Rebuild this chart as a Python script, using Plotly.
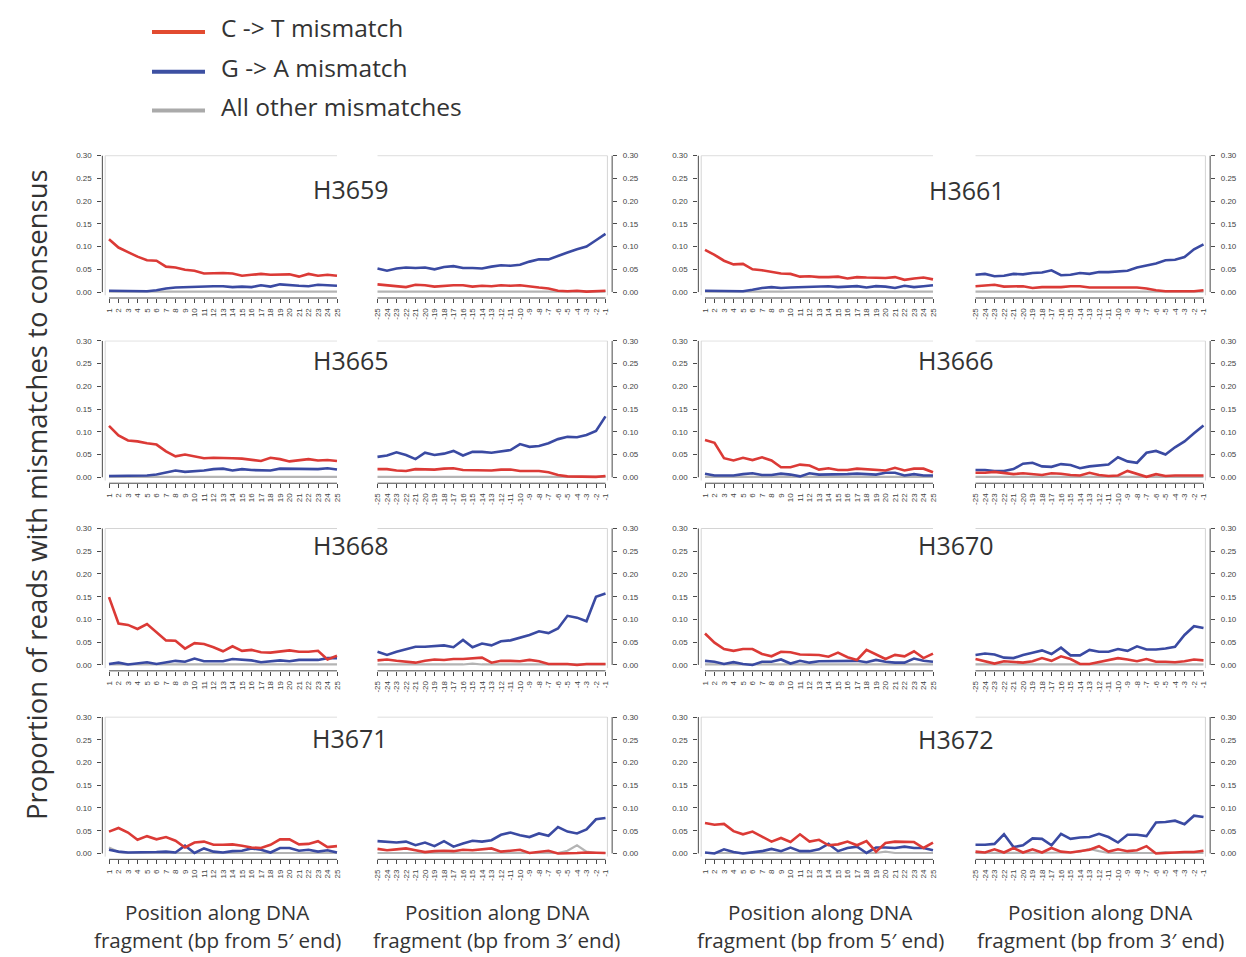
import plotly.graph_objects as go

W, H = 1246, 957

SAMPLES = ["H3659", "H3661", "H3665", "H3666", "H3668", "H3670", "H3671", "H3672"]
POS_5 = [1, 2, 3, 4, 5, 6, 7, 8, 9, 10, 11, 12, 13, 14, 15, 16, 17, 18, 19, 20, 21, 22, 23, 24, 25]
POS_3 = [-25, -24, -23, -22, -21, -20, -19, -18, -17, -16, -15, -14, -13, -12, -11, -10, -9, -8, -7, -6, -5, -4, -3, -2, -1]
Y_TICKS = [0.0, 0.05, 0.10, 0.15, 0.20, 0.25, 0.30]
Y_TICK_TEXT = ["0.00", "0.05", "0.10", "0.15", "0.20", "0.25", "0.30"]
LEGEND_LABELS = ["C -> T mismatch", "G -> A mismatch", "All other mismatches"]
Y_TITLE = "Proportion of reads with mismatches to consensus"
X_TITLE_5 = ["Position along DNA", "fragment (bp from 5\u2032 end)"]
X_TITLE_3 = ["Position along DNA", "fragment (bp from 3\u2032 end)"]

# ---------------- data ----------------
H3659_CT_5 = [0.116, 0.098, 0.088, 0.078, 0.070, 0.069, 0.056, 0.054, 0.049, 0.047, 0.041, 0.042, 0.042, 0.041, 0.036, 0.038, 0.040, 0.038, 0.039, 0.039, 0.034, 0.040, 0.036, 0.038, 0.036]
H3659_GA_5 = [0.003, 0.003, 0.003, 0.002, 0.002, 0.004, 0.008, 0.010, 0.011, 0.012, 0.012, 0.013, 0.013, 0.011, 0.012, 0.011, 0.015, 0.012, 0.017, 0.015, 0.014, 0.013, 0.016, 0.015, 0.014]
H3659_OT_5 = [0.001, 0.001, 0.001, 0.001, 0.001, 0.001, 0.001, 0.001, 0.001, 0.001, 0.001, 0.001, 0.001, 0.001, 0.001, 0.001, 0.001, 0.001, 0.001, 0.001, 0.001, 0.001, 0.001, 0.001, 0.001]
H3659_CT_3 = [0.017, 0.015, 0.014, 0.011, 0.016, 0.015, 0.012, 0.014, 0.015, 0.015, 0.012, 0.014, 0.013, 0.015, 0.014, 0.015, 0.012, 0.010, 0.008, 0.003, 0.002, 0.003, 0.001, 0.002, 0.003]
H3659_GA_3 = [0.052, 0.047, 0.052, 0.054, 0.053, 0.054, 0.050, 0.055, 0.057, 0.053, 0.053, 0.052, 0.056, 0.059, 0.058, 0.060, 0.067, 0.072, 0.072, 0.080, 0.087, 0.094, 0.100, 0.114, 0.128]
H3659_OT_3 = [0.001, 0.001, 0.001, 0.001, 0.001, 0.001, 0.001, 0.001, 0.001, 0.001, 0.001, 0.001, 0.001, 0.001, 0.001, 0.001, 0.001, 0.001, 0.001, 0.001, 0.001, 0.001, 0.001, 0.001, 0.001]

H3661_CT_5 = [0.093, 0.082, 0.069, 0.061, 0.062, 0.050, 0.048, 0.045, 0.041, 0.040, 0.034, 0.035, 0.033, 0.033, 0.034, 0.030, 0.033, 0.032, 0.032, 0.031, 0.033, 0.027, 0.030, 0.032, 0.028]
H3661_GA_5 = [0.003, 0.003, 0.003, 0.002, 0.002, 0.005, 0.009, 0.011, 0.009, 0.010, 0.011, 0.012, 0.012, 0.013, 0.011, 0.012, 0.013, 0.010, 0.013, 0.012, 0.009, 0.014, 0.011, 0.013, 0.015]
H3661_OT_5 = [0.001, 0.001, 0.001, 0.001, 0.001, 0.001, 0.001, 0.001, 0.001, 0.001, 0.001, 0.001, 0.001, 0.001, 0.001, 0.001, 0.001, 0.001, 0.001, 0.001, 0.001, 0.001, 0.001, 0.001, 0.001]
H3661_CT_3 = [0.013, 0.015, 0.016, 0.012, 0.013, 0.013, 0.009, 0.011, 0.011, 0.011, 0.013, 0.013, 0.010, 0.010, 0.011, 0.011, 0.010, 0.010, 0.008, 0.004, 0.002, 0.002, 0.002, 0.002, 0.004]
H3661_GA_3 = [0.038, 0.040, 0.035, 0.036, 0.040, 0.039, 0.042, 0.043, 0.048, 0.037, 0.038, 0.042, 0.040, 0.044, 0.044, 0.046, 0.047, 0.054, 0.059, 0.063, 0.070, 0.071, 0.077, 0.094, 0.105]
H3661_OT_3 = [0.001, 0.001, 0.001, 0.001, 0.001, 0.001, 0.001, 0.001, 0.001, 0.001, 0.001, 0.001, 0.001, 0.001, 0.001, 0.001, 0.001, 0.001, 0.001, 0.001, 0.001, 0.001, 0.001, 0.001, 0.001]

H3665_CT_5 = [0.113, 0.092, 0.081, 0.079, 0.075, 0.072, 0.057, 0.046, 0.050, 0.046, 0.042, 0.043, 0.043, 0.042, 0.041, 0.038, 0.036, 0.043, 0.040, 0.035, 0.038, 0.040, 0.037, 0.038, 0.036]
H3665_GA_5 = [0.003, 0.003, 0.003, 0.004, 0.004, 0.006, 0.011, 0.015, 0.012, 0.013, 0.015, 0.018, 0.019, 0.015, 0.018, 0.016, 0.016, 0.015, 0.019, 0.019, 0.019, 0.018, 0.018, 0.020, 0.017]
H3665_OT_5 = [0.001, 0.001, 0.001, 0.001, 0.001, 0.001, 0.001, 0.001, 0.001, 0.001, 0.001, 0.001, 0.001, 0.001, 0.001, 0.001, 0.001, 0.001, 0.001, 0.001, 0.001, 0.001, 0.001, 0.001, 0.001]
H3665_CT_3 = [0.018, 0.018, 0.015, 0.014, 0.018, 0.018, 0.017, 0.019, 0.020, 0.016, 0.016, 0.016, 0.015, 0.017, 0.017, 0.014, 0.014, 0.014, 0.011, 0.005, 0.002, 0.002, 0.002, 0.001, 0.003]
H3665_GA_3 = [0.045, 0.048, 0.055, 0.049, 0.040, 0.054, 0.049, 0.052, 0.058, 0.048, 0.056, 0.056, 0.054, 0.057, 0.060, 0.073, 0.067, 0.069, 0.075, 0.084, 0.089, 0.088, 0.093, 0.102, 0.134]
H3665_OT_3 = [0.001, 0.001, 0.001, 0.001, 0.001, 0.001, 0.001, 0.001, 0.001, 0.001, 0.001, 0.001, 0.001, 0.001, 0.001, 0.001, 0.001, 0.001, 0.001, 0.001, 0.001, 0.001, 0.001, 0.001, 0.001]

H3666_CT_5 = [0.082, 0.076, 0.042, 0.037, 0.043, 0.038, 0.044, 0.037, 0.022, 0.022, 0.028, 0.026, 0.017, 0.020, 0.016, 0.016, 0.019, 0.018, 0.016, 0.015, 0.021, 0.015, 0.019, 0.019, 0.011]
H3666_GA_5 = [0.008, 0.004, 0.004, 0.004, 0.007, 0.009, 0.005, 0.005, 0.008, 0.006, 0.002, 0.009, 0.006, 0.006, 0.006, 0.007, 0.008, 0.007, 0.006, 0.010, 0.010, 0.004, 0.007, 0.004, 0.004]
H3666_OT_5 = [0.001, 0.001, 0.001, 0.001, 0.001, 0.001, 0.001, 0.001, 0.001, 0.001, 0.001, 0.001, 0.001, 0.001, 0.001, 0.001, 0.001, 0.001, 0.001, 0.001, 0.001, 0.001, 0.001, 0.001, 0.001]
H3666_CT_3 = [0.010, 0.010, 0.012, 0.010, 0.007, 0.009, 0.007, 0.005, 0.009, 0.008, 0.005, 0.004, 0.010, 0.005, 0.003, 0.004, 0.014, 0.007, 0.001, 0.007, 0.003, 0.004, 0.004, 0.004, 0.004]
H3666_GA_3 = [0.016, 0.016, 0.014, 0.014, 0.018, 0.030, 0.032, 0.024, 0.023, 0.029, 0.027, 0.020, 0.024, 0.026, 0.028, 0.044, 0.035, 0.032, 0.054, 0.058, 0.050, 0.066, 0.079, 0.097, 0.114]
H3666_OT_3 = [0.001, 0.001, 0.001, 0.001, 0.001, 0.001, 0.001, 0.001, 0.001, 0.001, 0.001, 0.001, 0.001, 0.001, 0.001, 0.001, 0.001, 0.001, 0.001, 0.001, 0.001, 0.001, 0.001, 0.001, 0.001]

H3668_CT_5 = [0.149, 0.091, 0.088, 0.079, 0.090, 0.072, 0.054, 0.053, 0.036, 0.048, 0.046, 0.039, 0.030, 0.041, 0.031, 0.033, 0.028, 0.027, 0.030, 0.032, 0.029, 0.029, 0.031, 0.012, 0.020]
H3668_GA_5 = [0.002, 0.005, 0.001, 0.004, 0.006, 0.002, 0.005, 0.009, 0.007, 0.014, 0.008, 0.008, 0.008, 0.013, 0.012, 0.010, 0.006, 0.008, 0.010, 0.008, 0.011, 0.011, 0.011, 0.015, 0.015]
H3668_OT_5 = [0.001, 0.001, 0.001, 0.001, 0.001, 0.001, 0.001, 0.001, 0.001, 0.001, 0.001, 0.001, 0.001, 0.001, 0.001, 0.001, 0.001, 0.001, 0.001, 0.001, 0.001, 0.001, 0.001, 0.001, 0.001]
H3668_CT_3 = [0.010, 0.012, 0.009, 0.007, 0.005, 0.009, 0.012, 0.011, 0.013, 0.013, 0.015, 0.016, 0.005, 0.009, 0.009, 0.008, 0.011, 0.008, 0.002, 0.002, 0.002, 0.000, 0.002, 0.002, 0.002]
H3668_GA_3 = [0.029, 0.022, 0.029, 0.034, 0.040, 0.040, 0.042, 0.043, 0.039, 0.055, 0.039, 0.047, 0.043, 0.052, 0.054, 0.060, 0.066, 0.074, 0.070, 0.080, 0.108, 0.104, 0.096, 0.150, 0.157]
H3668_OT_3 = [0.001, 0.001, 0.001, 0.001, 0.001, 0.001, 0.001, 0.001, 0.001, 0.001, 0.003, 0.001, 0.001, 0.001, 0.001, 0.001, 0.001, 0.001, 0.001, 0.001, 0.001, 0.001, 0.001, 0.001, 0.001]

H3670_CT_5 = [0.069, 0.049, 0.035, 0.031, 0.035, 0.035, 0.024, 0.019, 0.029, 0.028, 0.023, 0.023, 0.022, 0.018, 0.027, 0.017, 0.011, 0.033, 0.023, 0.013, 0.022, 0.019, 0.030, 0.015, 0.025]
H3670_GA_5 = [0.009, 0.007, 0.002, 0.006, 0.002, 0.000, 0.007, 0.007, 0.012, 0.003, 0.009, 0.005, 0.008, 0.008, 0.008, 0.009, 0.009, 0.006, 0.011, 0.007, 0.005, 0.005, 0.014, 0.009, 0.007]
H3670_OT_5 = [0.001, 0.001, 0.001, 0.001, 0.001, 0.001, 0.001, 0.001, 0.001, 0.001, 0.001, 0.001, 0.001, 0.001, 0.001, 0.001, 0.001, 0.001, 0.001, 0.001, 0.001, 0.001, 0.001, 0.001, 0.001]
H3670_CT_3 = [0.013, 0.008, 0.003, 0.008, 0.006, 0.005, 0.008, 0.015, 0.009, 0.019, 0.013, 0.002, 0.002, 0.006, 0.010, 0.015, 0.012, 0.008, 0.013, 0.007, 0.007, 0.006, 0.008, 0.012, 0.010]
H3670_GA_3 = [0.022, 0.025, 0.023, 0.016, 0.015, 0.022, 0.027, 0.032, 0.024, 0.038, 0.021, 0.021, 0.033, 0.029, 0.029, 0.035, 0.031, 0.041, 0.034, 0.034, 0.036, 0.040, 0.066, 0.085, 0.081]
H3670_OT_3 = [0.001, 0.001, 0.001, 0.001, 0.001, 0.001, 0.001, 0.001, 0.001, 0.001, 0.001, 0.001, 0.001, 0.001, 0.001, 0.001, 0.001, 0.001, 0.001, 0.001, 0.001, 0.001, 0.001, 0.001, 0.001]

H3671_CT_5 = [0.048, 0.056, 0.046, 0.030, 0.038, 0.031, 0.036, 0.028, 0.013, 0.024, 0.026, 0.019, 0.019, 0.020, 0.017, 0.013, 0.012, 0.019, 0.031, 0.031, 0.020, 0.021, 0.027, 0.014, 0.016]
H3671_GA_5 = [0.008, 0.004, 0.002, 0.002, 0.002, 0.003, 0.004, 0.002, 0.017, 0.001, 0.011, 0.004, 0.002, 0.005, 0.006, 0.011, 0.008, 0.002, 0.012, 0.012, 0.006, 0.008, 0.004, 0.007, 0.002]
H3671_OT_5 = [0.013, 0.003, 0.001, 0.001, 0.001, 0.001, 0.001, 0.001, 0.001, 0.001, 0.001, 0.001, 0.001, 0.001, 0.001, 0.001, 0.001, 0.001, 0.001, 0.001, 0.001, 0.001, 0.001, 0.001, 0.001]
H3671_CT_3 = [0.010, 0.007, 0.009, 0.011, 0.007, 0.003, 0.005, 0.006, 0.005, 0.008, 0.007, 0.009, 0.011, 0.004, 0.006, 0.008, 0.001, 0.004, 0.006, 0.000, 0.000, 0.001, 0.002, 0.001, 0.001]
H3671_GA_3 = [0.027, 0.026, 0.024, 0.026, 0.018, 0.024, 0.016, 0.027, 0.015, 0.022, 0.028, 0.026, 0.029, 0.041, 0.046, 0.040, 0.036, 0.044, 0.039, 0.058, 0.048, 0.044, 0.053, 0.075, 0.078]
H3671_OT_3 = [0.001, 0.001, 0.001, 0.001, 0.001, 0.001, 0.001, 0.001, 0.001, 0.001, 0.001, 0.001, 0.001, 0.001, 0.001, 0.001, 0.001, 0.001, 0.001, 0.001, 0.006, 0.018, 0.004, 0.001, 0.001]

H3672_CT_5 = [0.067, 0.063, 0.065, 0.049, 0.042, 0.048, 0.037, 0.026, 0.034, 0.025, 0.042, 0.026, 0.030, 0.018, 0.020, 0.026, 0.018, 0.027, 0.004, 0.023, 0.026, 0.025, 0.025, 0.012, 0.024]
H3672_GA_5 = [0.002, 0.000, 0.009, 0.003, 0.000, 0.003, 0.005, 0.010, 0.005, 0.013, 0.005, 0.005, 0.009, 0.021, 0.005, 0.012, 0.015, 0.001, 0.013, 0.013, 0.012, 0.015, 0.012, 0.012, 0.007]
H3672_OT_5 = [0.001, 0.001, 0.001, 0.001, 0.001, 0.001, 0.001, 0.001, 0.001, 0.001, 0.001, 0.001, 0.001, 0.001, 0.001, 0.001, 0.001, 0.001, 0.001, 0.004, 0.001, 0.001, 0.001, 0.001, 0.001]
H3672_CT_3 = [0.004, 0.002, 0.009, 0.002, 0.012, 0.002, 0.009, 0.002, 0.012, 0.004, 0.002, 0.005, 0.008, 0.016, 0.004, 0.009, 0.005, 0.007, 0.016, 0.000, 0.001, 0.003, 0.003, 0.003, 0.006]
H3672_GA_3 = [0.019, 0.019, 0.021, 0.042, 0.014, 0.018, 0.033, 0.032, 0.018, 0.043, 0.032, 0.035, 0.036, 0.043, 0.036, 0.024, 0.041, 0.041, 0.038, 0.068, 0.069, 0.072, 0.064, 0.083, 0.080]
H3672_OT_3 = [0.001, 0.001, 0.001, 0.001, 0.001, 0.001, 0.001, 0.001, 0.001, 0.001, 0.002, 0.004, 0.010, 0.005, 0.001, 0.001, 0.001, 0.001, 0.001, 0.001, 0.003, 0.001, 0.001, 0.001, 0.001]

CT_5 = [H3659_CT_5, H3661_CT_5, H3665_CT_5, H3666_CT_5, H3668_CT_5, H3670_CT_5, H3671_CT_5, H3672_CT_5]
GA_5 = [H3659_GA_5, H3661_GA_5, H3665_GA_5, H3666_GA_5, H3668_GA_5, H3670_GA_5, H3671_GA_5, H3672_GA_5]
OT_5 = [H3659_OT_5, H3661_OT_5, H3665_OT_5, H3666_OT_5, H3668_OT_5, H3670_OT_5, H3671_OT_5, H3672_OT_5]
CT_3 = [H3659_CT_3, H3661_CT_3, H3665_CT_3, H3666_CT_3, H3668_CT_3, H3670_CT_3, H3671_CT_3, H3672_CT_3]
GA_3 = [H3659_GA_3, H3661_GA_3, H3665_GA_3, H3666_GA_3, H3668_GA_3, H3670_GA_3, H3671_GA_3, H3672_GA_3]
OT_3 = [H3659_OT_3, H3661_OT_3, H3665_OT_3, H3666_OT_3, H3668_OT_3, H3670_OT_3, H3671_OT_3, H3672_OT_3]

# ---------------- styling / geometry ----------------
RED = "#db3a36"
BLUE = "#3a4aa2"
GRAY = "#b4b4b4"
LEG_RED = "#e24b30"
LEG_BLUE = "#3d50a2"
LEG_GRAY = "#aaaaaa"
AXIS_COL = "#4a4a4a"
FRAME_COL = "#d4d4d4"
TEXT_COL = "#333333"
TICK_FONT = dict(family="Liberation Sans, Arial, sans-serif", size=8, color="#444444")
MAIN_FONT = "Open Sans, Noto Sans, sans-serif"

PX_PER_UNIT = 9.5
X_PAD = 0.7
Y_MIN, Y_MAX = -0.013, 0.301
PX_PER_Y = 137.0 / 0.30

ROW_ZERO = [289.3, 475.3, 663.7, 853.0]        # pixel of y = 0 in each row
COL_TICK_START = [(109.0, 377.5), (705.0, 975.5)]  # pixel of first tick: 5' panel, 3' panel
TITLE_POS = [(351, 186), (967, 187), (351, 357), (956, 357), (351, 543), (956, 543), (350, 737), (956, 738)]
XTITLE_CENTERS = [217, 497, 820, 1100]

fig = go.Figure()
layout = dict(
    width=W, height=H,
    margin=dict(l=0, r=0, t=0, b=0),
    paper_bgcolor="white", plot_bgcolor="rgba(0,0,0,0)",
    showlegend=False,
)
shapes = []
annotations = []

span_px = (24 + 2 * X_PAD) * PX_PER_UNIT

n = 0
for i, name in enumerate(SAMPLES):
    row, col = i // 2, i % 2
    y0 = ROW_ZERO[row]
    ydom = [1 - (y0 - Y_MIN * PX_PER_Y) / H, 1 - (y0 - Y_MAX * PX_PER_Y) / H]
    for end in range(2):
        n += 1
        xs = "x" if n == 1 else f"x{n}"
        ys = "y" if n == 1 else f"y{n}"
        tick0 = COL_TICK_START[col][end]
        left_px = tick0 - X_PAD * PX_PER_UNIT
        xdom = [left_px / W, (left_px + span_px) / W]
        if end == 0:
            pos, ct, ga, ot = POS_5, CT_5[i], GA_5[i], OT_5[i]
            xr = [POS_5[0] - X_PAD, POS_5[-1] + X_PAD]
            side = "left"
        else:
            pos, ct, ga, ot = POS_3, CT_3[i], GA_3[i], OT_3[i]
            xr = [POS_3[0] - X_PAD, POS_3[-1] + X_PAD]
            side = "right"

        for vals, colr, wid in ((ot, GRAY, 2.2), (ga, BLUE, 2.6), (ct, RED, 2.6)):
            fig.add_trace(go.Scatter(x=pos, y=vals, mode="lines",
                                     line=dict(color=colr, width=wid),
                                     xaxis=xs, yaxis=ys, hoverinfo="skip"))

        layout[f"xaxis{'' if n == 1 else n}"] = dict(
            domain=xdom, range=xr, anchor=ys,
            tickmode="array", tickvals=pos, ticktext=[str(p) for p in pos],
            tickangle=-90, ticks="outside", ticklen=4, tickwidth=1, tickcolor=AXIS_COL,
            tickfont=TICK_FONT, ticklabelstandoff=2,
            showline=False, showgrid=False, zeroline=False, fixedrange=True,
        )
        layout[f"yaxis{'' if n == 1 else n}"] = dict(
            domain=ydom, range=[Y_MIN, Y_MAX], anchor=xs, side=side,
            tickmode="array", tickvals=Y_TICKS, ticktext=Y_TICK_TEXT,
            ticks="outside", ticklen=4, tickwidth=1, tickcolor=AXIS_COL,
            tickfont=TICK_FONT, ticklabelstandoff=4,
            showline=False, showgrid=False, zeroline=False, fixedrange=True,
        )

        xd = f"{xs} domain"
        yd = f"{ys} domain"
        # x axis line (first to last tick)
        shapes.append(dict(type="line", xref=xs, yref=yd, x0=pos[0], x1=pos[-1], y0=0, y1=0,
                           line=dict(color=AXIS_COL, width=1)))
        # y axis line (0 to 0.30)
        ax_x = 0 if end == 0 else 1
        shapes.append(dict(type="line", xref=xd, yref=ys, x0=ax_x, x1=ax_x, y0=Y_TICKS[0], y1=Y_TICKS[-1],
                           line=dict(color=AXIS_COL, width=1)))
        # light frame
        if end == 0:
            fx = xr[0] + 0.3
            shapes.append(dict(type="line", xref=xs, yref=ys, x0=fx, x1=pos[-1], y0=Y_TICKS[-1], y1=Y_TICKS[-1],
                               line=dict(color=FRAME_COL, width=1)))
            shapes.append(dict(type="line", xref=xs, yref=ys, x0=fx, x1=fx, y0=-0.007, y1=Y_TICKS[-1],
                               line=dict(color=FRAME_COL, width=1)))
        else:
            fx = xr[1] - 0.5
            shapes.append(dict(type="line", xref=xs, yref=ys, x0=pos[0], x1=fx, y0=Y_TICKS[-1], y1=Y_TICKS[-1],
                               line=dict(color=FRAME_COL, width=1)))
            shapes.append(dict(type="line", xref=xs, yref=ys, x0=fx, x1=fx, y0=-0.007, y1=Y_TICKS[-1],
                               line=dict(color=FRAME_COL, width=1)))

    tx, ty = TITLE_POS[i]
    annotations.append(dict(text=name, xref="paper", yref="paper", x=tx / W, y=1 - ty / H,
                            xanchor="center", yanchor="middle", showarrow=False,
                            font=dict(family=MAIN_FONT, size=25, color=TEXT_COL)))

# legend (manual)
LEG_Y = [28, 68, 107]
for lab, colr, ly in zip(LEGEND_LABELS, [LEG_RED, LEG_BLUE, LEG_GRAY], LEG_Y):
    shapes.append(dict(type="line", xref="paper", yref="paper", x0=152 / W, x1=205 / W,
                       y0=1 - ly / H, y1=1 - ly / H, line=dict(color=colr, width=4)))
    annotations.append(dict(text=lab, xref="paper", yref="paper", x=219 / W, y=1 - (ly - 4) / H,
                            xanchor="left", yanchor="middle", showarrow=False,
                            font=dict(family=MAIN_FONT, size=24.5, color=TEXT_COL)))

# y title
annotations.append(dict(text=Y_TITLE, xref="paper", yref="paper", x=37 / W, y=1 - 493 / H,
                        xanchor="center", yanchor="middle", textangle=-90, showarrow=False,
                        font=dict(family=MAIN_FONT, size=27.5, color=TEXT_COL)))

# x titles
for k, cx in enumerate(XTITLE_CENTERS):
    lines = X_TITLE_5 if k % 2 == 0 else X_TITLE_3
    for line_txt, ly in zip(lines, [912, 940]):
        annotations.append(dict(text=line_txt, xref="paper", yref="paper", x=cx / W, y=1 - ly / H,
                                xanchor="center", yanchor="middle", showarrow=False,
                                font=dict(family=MAIN_FONT, size=20.6, color=TEXT_COL)))

layout["shapes"] = shapes
layout["annotations"] = annotations
fig.update_layout(**layout)

PAGE_JS = "document.body.style.margin='0';document.body.style.overflow='hidden';"
fig.write_html("out.html", post_script=PAGE_JS, config={"displayModeBar": False})
